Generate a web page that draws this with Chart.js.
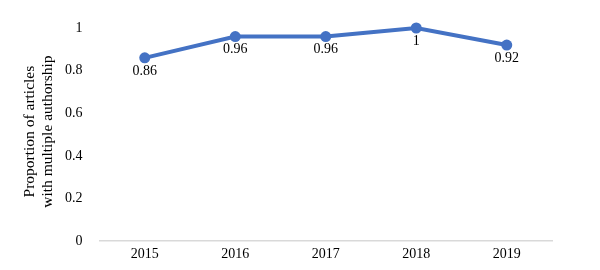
<!DOCTYPE html>
<html>
<head>
<meta charset="utf-8">
<script src="https://cdn.jsdelivr.net/npm/chart.js@4/dist/chart.umd.min.js"></script>
<style>
html,body{margin:0;padding:0;background:#fff;}
#wrap{width:600px;height:270px;position:relative;}
</style>
</head>
<body>
<div id="wrap"><canvas id="c" width="600" height="270"></canvas></div>
<script>
const years = ["2015", "2016", "2017", "2018", "2019"];
const proportions = [0.86, 0.96, 0.96, 1, 0.92];
const pointLabels = ["0.86", "0.96", "0.96", "1", "0.92"];
const yTitle = ["Proportion of articles", "with multiple authorship"];

const FONT = "'Liberation Serif', 'Times New Roman', serif";

const labelPlugin = {
  id: 'pointLabels',
  afterDatasetsDraw(chart) {
    const ctx = chart.ctx;
    const meta = chart.getDatasetMeta(0);
    ctx.save();
    ctx.font = "14px " + FONT;
    ctx.fillStyle = "#000";
    ctx.textAlign = "center";
    ctx.textBaseline = "middle";
    meta.data.forEach((pt, i) => {
      ctx.fillText(pointLabels[i], pt.x, pt.y + 13);
    });
    ctx.restore();
  }
};

const yTitlePlugin = {
  id: 'yTitle',
  afterDraw(chart) {
    const ctx = chart.ctx;
    const a = chart.chartArea;
    const cy = (a.top + a.bottom) / 2 - 3;
    ctx.save();
    ctx.font = "15.5px " + FONT;
    ctx.fillStyle = "#000";
    ctx.textAlign = "center";
    ctx.textBaseline = "middle";
    ctx.translate(30, cy);
    ctx.rotate(-Math.PI / 2);
    yTitle.forEach((line, i) => ctx.fillText(line, 0, i * 18));
    ctx.restore();
  }
};

new Chart(document.getElementById('c'), {
  type: 'line',
  data: {
    labels: years,
    datasets: [{
      data: proportions,
      borderColor: '#4472C4',
      backgroundColor: '#4472C4',
      borderWidth: 4,
      pointRadius: 5.5,
      pointHoverRadius: 5.5,
      pointBorderWidth: 0,
      tension: 0,
      clip: false
    }]
  },
  options: {
    responsive: false,
    animation: false,
    events: [],
    layout: { padding: { left: 48, right: 48, top: 28, bottom: 2 } },
    plugins: {
      legend: { display: false },
      tooltip: { enabled: false }
    },
    scales: {
      x: {
        offset: true,
        grid: { display: false, drawTicks: false },
        border: { display: true, color: '#d9d9d9', width: 1.5 },
        ticks: { color: '#000', font: { family: FONT, size: 14 }, padding: 5 }
      },
      y: {
        min: 0,
        max: 1,
        grid: { display: false, drawTicks: false },
        border: { display: false },
        ticks: {
          stepSize: 0.2,
          color: '#000',
          font: { family: FONT, size: 14 },
          padding: 17,
          callback: (v) => String(Math.round(v * 10) / 10)
        },
        title: { display: false }
      }
    }
  },
  plugins: [labelPlugin, yTitlePlugin]
});
</script>
</body>
</html>
